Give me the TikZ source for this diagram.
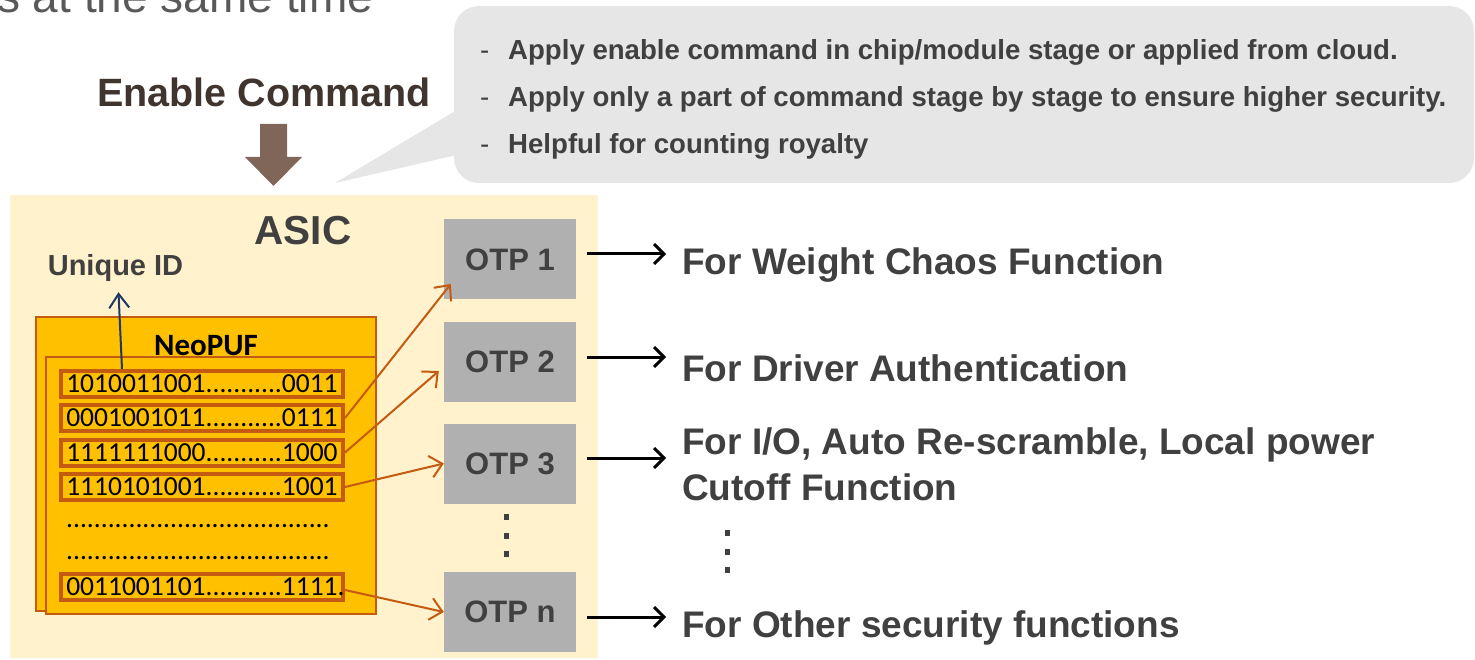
\documentclass[tikz,border=0pt]{standalone}
\usepackage{fontspec}
\setmainfont{Liberation Sans}
\newfontfamily\pufont{Carlito}
\usetikzlibrary{arrows.meta,positioning,calc}

\definecolor{asicbg}{HTML}{FFF2CC}
\definecolor{pufill}{HTML}{FFC000}
\definecolor{pufedge}{HTML}{C55A11}
\definecolor{otpgray}{HTML}{B0B0B0}
\definecolor{txtgray}{HTML}{404040}
\definecolor{bubblegray}{HTML}{E6E6E6}
\definecolor{cmdbrown}{HTML}{806659}
\definecolor{cmdtext}{HTML}{40342F}
\definecolor{uidblue}{HTML}{1F3864}
\definecolor{titlegray}{HTML}{595959}

\tikzset{
  otpbox/.style={fill=otpgray, minimum width=132pt, minimum height=80pt, inner sep=0pt,
    text=txtgray, font=\bfseries\fontsize{31}{31}\selectfont},
  rowbox/.style={draw=pufedge, line width=4pt, fill=pufill, minimum width=282pt,
    minimum height=26pt, inner sep=0pt, font=\pufont\fontsize{27.5}{27.5}\selectfont},
  dotrow/.style={anchor=base west, inner sep=0pt, font=\pufont\fontsize{27.5}{27.5}\selectfont},
  pufsheet/.style={draw=pufedge, line width=1.5pt, fill=pufill},
  bitarrow/.style={draw=pufedge, line width=2pt, -{Straight Barb[length=12pt,width=22pt]}},
  outarrow/.style={line width=3pt, -{Straight Barb[length=10pt,width=20pt]}},
  fortext/.style={anchor=base west, inner sep=0pt, text=txtgray,
    font=\bfseries\fontsize{37}{46}\selectfont},
  notetext/.style={anchor=base west, inner sep=0pt, text=txtgray,
    font=\bfseries\fontsize{27.6}{27.6}\selectfont}
}

\begin{document}
\begin{tikzpicture}[x=1pt, y=-1pt]
\clip (0,0) rectangle (1475,660);

\node[anchor=base west, inner sep=0pt, text=titlegray, font=\fontsize{46}{46}\selectfont]
  (title) at (-3,12.5) {s at the same time};

% enable command
\node[anchor=base, inner sep=0pt, text=cmdtext, font=\bfseries\fontsize{39.5}{39.5}\selectfont]
  (cmd) at (264,107) {Enable Command};
\fill[cmdbrown] (260,124) -- (287,124) -- (287,157) -- (302,157) -- (273.5,186)
  -- (245,157) -- (260,157) -- cycle;

% call-out
\node[fill=bubblegray, rounded corners=25pt, minimum width=1020pt, minimum height=177pt,
  inner sep=0pt] (bubble) at (964,94.5) {};
\coordinate (tip) at (335,183);
\fill[bubblegray] ([xshift=3pt,yshift=-15.5pt]bubble.west) -- (tip)
  -- ([xshift=3pt,yshift=-60.5pt]bubble.west) -- cycle;
\foreach \txt [count=\i] in {Apply enable command in chip/module stage or applied from cloud.,
    Apply only a part of command stage by stage to ensure higher security.,
    Helpful for counting royalty}
  \node[notetext] (note\i) at (480,13+47*\i) {\makebox[28pt][l]{\mdseries -}\txt};

% chip
\fill[asicbg] (10,195) rectangle (598,658);
\node[anchor=base, inner sep=0pt, text=txtgray, font=\bfseries\fontsize{40.5}{40.5}\selectfont]
  (asic) at (303,245) {ASIC};
\node[anchor=base, inner sep=0pt, text=txtgray, font=\bfseries\fontsize{29}{29}\selectfont]
  (uid) at (115.5,276) {Unique ID};

\filldraw[pufsheet] (36,317) rectangle (376,611);
\filldraw[pufsheet] (46,357) rectangle (376,614);
\node[anchor=base, inner sep=0pt, font=\pufont\bfseries\fontsize{31}{31}\selectfont]
  (neopuf) at (206,355) {NeoPUF};

\node[rowbox] (r1) at (202,384) {1010011001...........0011};
\node[rowbox] (r2) at (202,418) {0001001011...........0111};
\node[rowbox] (r3) at (202,452.5) {1111111000...........1000};
\node[rowbox] (r4) at (202,487) {1110101001...........1001};
\node[dotrow] (d1) at (66,527) {......................................};
\node[dotrow] (d2) at (66,559) {......................................};
\node[rowbox] (rn) at (202,587) {0011001101...........1111\rlap{.}};

\draw[uidblue, line width=2pt, -{Straight Barb[length=14pt,width=20pt]}]
  ([xshift=-80pt]r1.north) -- ([xshift=3pt,yshift=-10pt]uid.south);

% otp blocks
\node[otpbox] (otp1) at (510,259.5) {OTP 1};
\node[otpbox] (otp2) at (510,362) {OTP 2};
\node[otpbox] (otp3) at (510,463.5) {OTP 3};
\node[otpbox] (otpn) at (510,612) {OTP n};
\foreach \y in {517,536,554}
  \fill[txtgray] (503.5,\y-3) rectangle ++(5,6);

\draw[bitarrow] (r2.east) -- ([xshift=7pt,yshift=-24.5pt]otp1.west);
\draw[bitarrow] (r3.east) -- ([xshift=-5pt,yshift=-9pt]otp2.west);
\draw[bitarrow] (r4.east) -- (otp3.west);
\draw[bitarrow] ([yshift=-3pt]rn.east) -- (otpn.west);

% functions
\node[fortext] (f1) at (682,275) {For Weight Chaos Function};
\node[fortext] (f2) at (682,381) {For Driver Authentication};
\node[fortext, align=left] (f3) at (682,500) {For I/O, Auto Re-scramble, Local power\\Cutoff Function};
\node[fortext] (fn) at (682,637) {For Other security functions};
\foreach \y in {533,552,570}
  \fill[txtgray] (724.5,\y-3) rectangle ++(5,6);

\draw[outarrow] ([xshift=11pt,yshift=5.5pt]otp1.east) -- ++(79,0);
\draw[outarrow] ([xshift=11pt,yshift=5pt]otp2.east) -- ++(79,0);
\draw[outarrow] ([xshift=11pt,yshift=5.5pt]otp3.east) -- ++(79,0);
\draw[outarrow] ([xshift=11pt,yshift=-5pt]otpn.east) -- ++(79,0);

\end{tikzpicture}
\end{document}
